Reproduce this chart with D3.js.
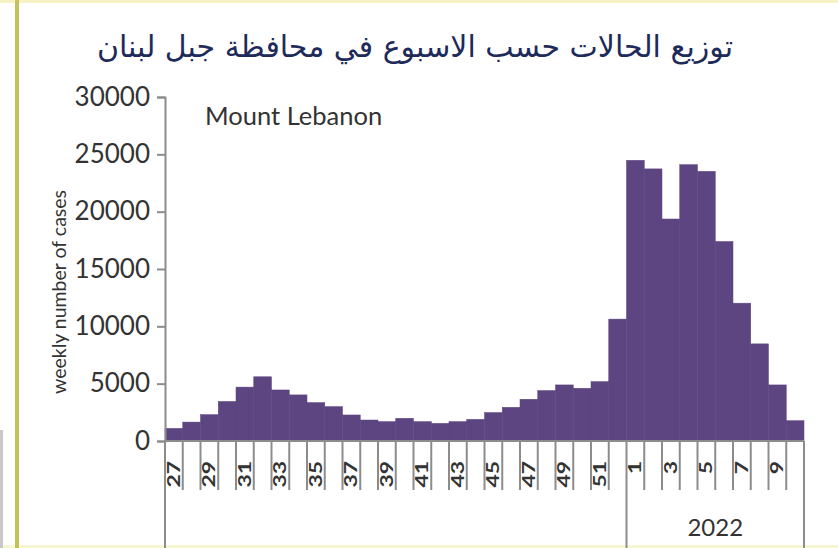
<!DOCTYPE html>
<html>
<head>
<meta charset="utf-8">
<script src="https://cdn.jsdelivr.net/npm/d3@7"></script>
<style>
  html, body { margin: 0; padding: 0; background: #fff; }
  svg { display: block; }
</style>
</head>
<body>
<svg id="chart" width="838" height="548"></svg>
<script>
// ---- data ----
const title = "توزيع الحالات حسب الاسبوع في محافظة جبل لبنان";
const regionLabel = "Mount Lebanon";
const yAxisTitle = "weekly number of cases";
const weeks2021 = ["27","28","29","30","31","32","33","34","35","36","37","38","39","40","41","42","43","44","45","46","47","48","49","50","51","52"];
const cases2021 = [1100,1650,2300,3450,4700,5600,4450,4020,3350,3000,2270,1830,1690,1980,1690,1540,1690,1890,2480,2940,3640,4400,4890,4600,5180,10630];
const weeks2022 = ["1","2","3","4","5","6","7","8","9","10"];
const cases2022 = [24480,23730,19360,24100,23520,17400,12020,8470,4890,1770];
const yearLabels = ["", "2022"];
const yTicks = [0,5000,10000,15000,20000,25000,30000];

// ---- build ----
const weeks = weeks2021.concat(weeks2022);
const cases = cases2021.concat(cases2022);
const groups = [weeks2021.length, weeks2022.length];
const data = weeks.map((w, i) => ({ i, week: w, value: cases[i] }));

const svg = d3.select("#chart");
const mLeft = 165, mRight = 804, mTop = 97, mBottom = 441;

const x = d3.scaleBand().domain(d3.range(weeks.length)).range([mLeft, mRight]).padding(0);
const y = d3.scaleLinear().domain([0, 30000]).range([mBottom, mTop]);

const axisColor = "#8c8c8c";
const textColor = "#333333";
const font = "Lato, 'Open Sans', sans-serif";

// frame decorations
svg.append("rect").attr("x", 0).attr("y", 0).attr("width", 838).attr("height", 3).attr("fill", "#f6f2c4");
svg.append("rect").attr("x", 0).attr("y", 545).attr("width", 838).attr("height", 3).attr("fill", "#f8f5d2");
svg.append("rect").attr("x", 15).attr("y", 0).attr("width", 4).attr("height", 548).attr("fill", "#c4c35a");
svg.append("rect").attr("x", 0).attr("y", 430).attr("width", 3).attr("height", 118).attr("fill", "#c8c8c8");

// title
svg.append("text")
  .attr("x", 415).attr("y", 57)
  .attr("text-anchor", "middle")
  .attr("direction", "rtl")
  .style("font-family", "'DejaVu Sans', sans-serif")
  .style("font-size", "30px")
  .attr("fill", "#1d2a5a")
  .text(title);

// bars
svg.append("g").selectAll("rect").data(data).join("rect")
  .attr("x", d => x(d.i))
  .attr("y", d => y(d.value))
  .attr("width", x.bandwidth())
  .attr("height", d => y(0) - y(d.value))
  .attr("fill", "#5c4580")
  .attr("stroke", "#5c4580")
  .attr("stroke-width", 0.5);

// y axis
const yAxis = svg.append("g").attr("transform", `translate(${mLeft},0)`)
  .call(d3.axisLeft(y).tickValues(yTicks).tickSize(8).tickPadding(7).tickFormat(d3.format("d")));
yAxis.select(".domain").attr("stroke", axisColor).attr("stroke-width", 2);
yAxis.selectAll(".tick line").attr("stroke", axisColor).attr("stroke-width", 2);
yAxis.selectAll(".tick text").attr("fill", textColor)
  .style("font-family", font).style("font-size", "26px");

// y axis title
svg.append("text")
  .attr("transform", "translate(66,292) rotate(-90)")
  .attr("text-anchor", "middle")
  .style("font-family", font).style("font-size", "19.5px")
  .attr("fill", textColor)
  .text(yAxisTitle);

// x axis line
svg.append("line").attr("x1", mLeft).attr("x2", mRight).attr("y1", mBottom).attr("y2", mBottom)
  .attr("stroke", axisColor).attr("stroke-width", 2);

// x category boundaries (short ticks)
const bounds = d3.range(weeks.length + 1).map(k => k === weeks.length ? mRight : x(k));
let groupBounds = [0];
groups.reduce((acc, n) => { groupBounds.push(acc + n); return acc + n; }, 0);
svg.append("g").selectAll("line").data(bounds.map((b, k) => ({ b, k }))).join("line")
  .attr("x1", d => d.b).attr("x2", d => d.b)
  .attr("y1", mBottom)
  .attr("y2", d => groupBounds.includes(d.k) ? 548 : 490)
  .attr("stroke", axisColor).attr("stroke-width", 2);

// x labels (every other week)
svg.append("g").selectAll("text").data(data.filter(d => (d.i < groups[0] ? d.i : d.i - groups[0]) % 2 === 0)).join("text")
  .attr("transform", d => `translate(${x(d.i) + x.bandwidth() / 2},461) rotate(-90) scale(1.35,1)`)
  .attr("text-anchor", "end")
  .attr("dy", "0.35em")
  .style("font-family", font).style("font-size", "17px")
  .style("font-weight", "bold")
  .attr("fill", textColor)
  .text(d => d.week);

// year labels
yearLabels.forEach((lab, g) => {
  const x0 = bounds[groupBounds[g]], x1 = bounds[groupBounds[g + 1]];
  svg.append("text")
    .attr("x", (x0 + x1) / 2).attr("y", 536)
    .attr("text-anchor", "middle")
    .style("font-family", font).style("font-size", "24px")
    .attr("fill", textColor)
    .text(lab);
});

// region label
svg.append("text")
  .attr("x", 205).attr("y", 125)
  .style("font-family", font).style("font-size", "25.5px")
  .attr("fill", textColor)
  .text(regionLabel);
</script>
</body>
</html>
